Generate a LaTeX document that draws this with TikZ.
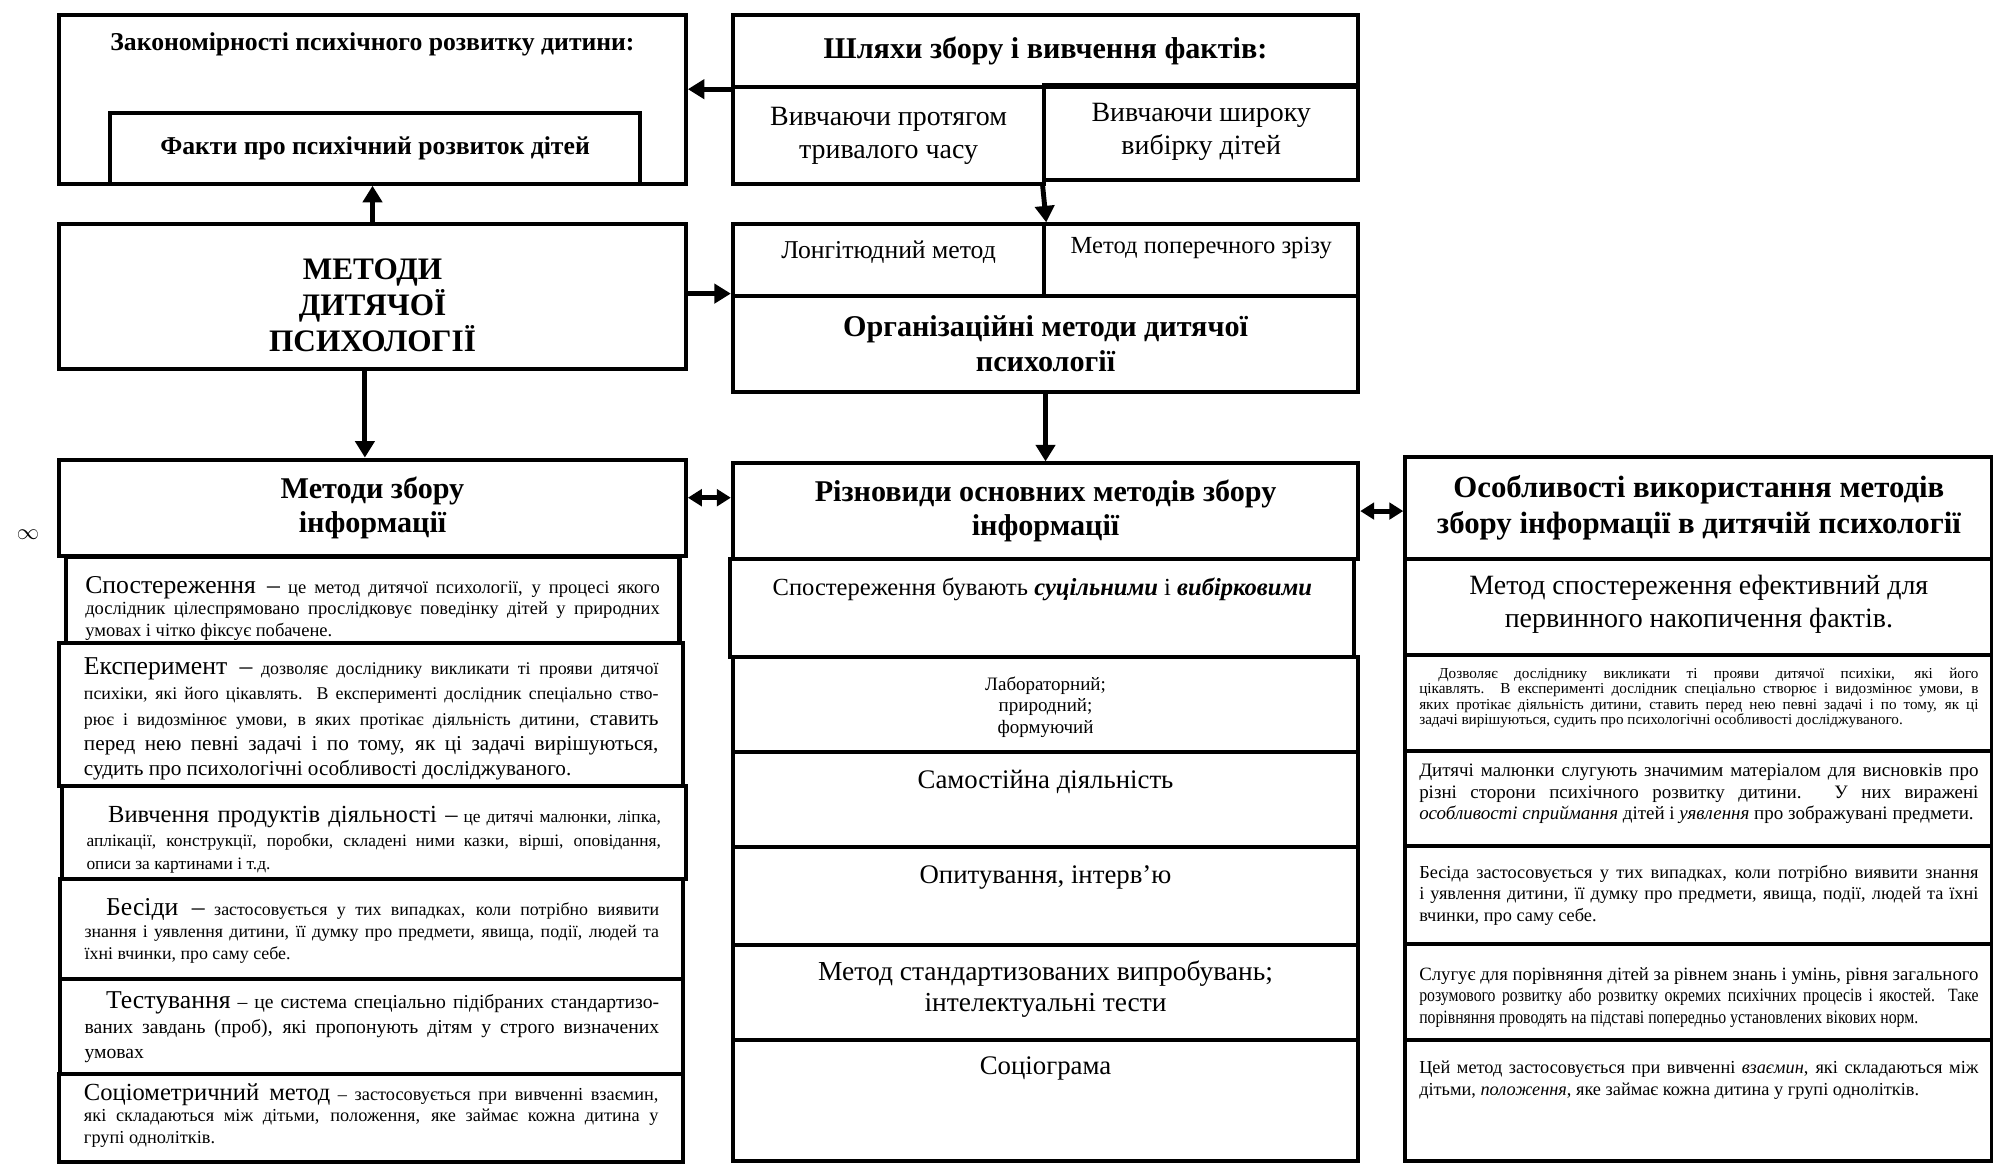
\documentclass[tikz,border=0pt]{standalone}
\usepackage{fontspec}
\setmainfont{Liberation Serif}
\newfontfamily\condensed{Liberation Serif}[FakeStretch=0.84]
\usepackage{tikz}
\usetikzlibrary{arrows.meta}
\tikzstyle{box}=[draw, line width=1.8pt, anchor=north west, align=center, inner sep=0pt]
\tikzstyle{cell}=[draw, line width=1.8pt, anchor=north west, inner sep=0pt]
\tikzstyle{head}=[font=\bfseries\fontsize{13.5}{15.5}\selectfont]
\tikzstyle{arrow}=[->, >={Triangle[length=0.26cm, width=0.30cm]}, line width=2.2pt]
\tikzstyle{twoway}=[<->, >={Triangle[length=0.22cm, width=0.26cm]}, line width=2.2pt]
\newcommand{\fs}[2]{\fontsize{#1}{#2}\selectfont}
\newcommand{\lw}[2]{{\fontsize{#1}{#1}\selectfont #2}}
\newcommand{\cellbox}[4]{\parbox[c][#2cm][t]{#1cm}{\vspace*{#3cm}#4}}

\begin{document}
\begin{tikzpicture}
        \path[use as bounding box, fill=white] (0,0) rectangle (31.36,18.32);
        % left column
        \node(zak) [cell, minimum width=9.86cm] at (0.90,18.12){\cellbox{9.4}{2.66}{0.28}{\centering\bfseries\fs{11.5}{13}Закономірності психічного розвитку дитини:}};
        \node(fakty) [box, minimum width=8.34cm, minimum height=1.12cm, font=\bfseries\fs{11.5}{13}] at (1.70,16.58){Факти про психічний розвиток дітей};
        \node(metody) [cell, minimum width=9.86cm] at (0.90,14.82){\cellbox{9.4}{2.28}{0.54}{\centering\bfseries\fs{14}{16.2}МЕТОДИ\\ДИТЯЧОЇ\\ПСИХОЛОГІЇ}};
        \node(zbir) [box, head, minimum width=9.86cm, minimum height=1.52cm] at (0.90,11.12){Методи збору\\інформації};
        \node(sposter) [cell, minimum width=9.66cm] at (1.00,9.58){\cellbox{9.04}{1.34}{0.30}{\fs{8.3}{9.6}\lw{11.5}{Спостереження –} це метод дитячої психології, у процесі якого\linebreak дослідник цілеспрямовано прослідковує поведінку дітей у природних\linebreak умовах і чітко фіксує побачене.}};
        \node(eksper) [cell, minimum width=9.82cm] at (0.90,8.24){\cellbox{9.04}{2.26}{0.24}{\fs{8}{11.3}\lw{11.5}{Експеримент –} дозволяє досліднику викликати ті прояви дитячої\linebreak психіки, які його цікавлять. В експерименті дослідник спеціально ство-\linebreak рює і видозмінює умови, в яких протікає діяльність дитини, \lw{9.5}{ставить}\linebreak \fs{9.5}{11.3}перед нею певні задачі і по тому, як ці задачі вирішуються,\linebreak судить про психологічні особливості досліджуваного.}};
        \node(produkty) [cell, minimum width=9.82cm] at (0.94,5.98){\cellbox{9.04}{1.46}{0.32}{\fs{7.8}{10.5}\hspace*{0.34cm}\lw{11}{Вивчення продуктів діяльності –} це дитячі малюнки, ліпка,\linebreak аплікації, конструкції, поробки, складені ними казки, вірші, оповідання,\linebreak описи за картинами і т.д.}};
        \node(besidy) [cell, minimum width=9.80cm] at (0.92,4.52){\cellbox{9.04}{1.58}{0.30}{\fs{8}{9.9}\hspace*{0.34cm}\lw{11.5}{Бесіди –} застосовується у тих випадках, коли потрібно виявити\linebreak знання і уявлення дитини, її думку про предмети, явища, події, людей та\linebreak їхні вчинки, про саму себе.}};
        \node(test) [cell, minimum width=9.80cm] at (0.92,2.94){\cellbox{9.04}{1.48}{0.20}{\fs{8.8}{11}\hspace*{0.34cm}\lw{11.5}{Тестування} – це система спеціально підібраних стандартизо-\linebreak ваних завдань (проб), які пропонують дітям у строго визначених\linebreak умовах}};
        \node(sotsio) [cell, minimum width=9.82cm] at (0.90,1.46){\cellbox{9.04}{1.40}{0.16}{\fs{8.2}{9.6}\lw{11}{Соціометричний метод} – застосовується при вивченні взаємин,\linebreak які складаються між дітьми, положення, яке займає кожна дитина у\linebreak групі однолітків.}};
        \node(inf) at (0.44,9.90){$\infty$};
        % middle column
        \node(shl) [box, head, minimum width=9.84cm, minimum height=1.14cm] at (11.50,18.12){Шляхи збору і вивчення фактів:};
        \node(shl1) [box, font=\fs{12.5}{14.7}, minimum width=4.90cm, minimum height=1.52cm] at (11.50,16.98){Вивчаючи протягом\\тривалого часу};
        \node(shl2) [box, font=\fs{12.5}{14.7}, minimum width=4.94cm, minimum height=1.50cm] at (16.40,17.02){Вивчаючи широку\\вибірку дітей};
        \node(long) [cell, minimum width=4.90cm] at (11.50,14.82){\cellbox{4.6}{1.12}{0.26}{\centering\fs{11.5}{13}Лонгітюдний метод}};
        \node(zriz) [cell, minimum width=4.94cm] at (16.40,14.82){\cellbox{4.6}{1.12}{0.20}{\centering\fs{11}{13}Метод поперечного зрізу}};
        \node(org) [box, head, minimum width=9.84cm, minimum height=1.52cm] at (11.50,13.70){Організаційні методи дитячої\\психології};
        \node(rizn) [box, head, minimum width=9.84cm, minimum height=1.50cm] at (11.50,11.06){Різновиди основних методів збору\\інформації};
        \node(rizn1) [cell, minimum width=9.82cm] at (11.46,9.56){\cellbox{9.0}{1.54}{0.30}{\centering\fs{11}{13}Спостереження бувають \textbf{\textit{суцільними}} і \textbf{\textit{вибірковими}}}};
        \node(rizn2) [cell, minimum width=9.84cm] at (11.50,8.02){\cellbox{9.0}{1.50}{0.32}{\centering\fs{8.5}{9.6}Лабораторний;\\природний;\\формуючий}};
        \node(rizn3) [cell, minimum width=9.84cm] at (11.50,6.52){\cellbox{9.0}{1.50}{0.29}{\centering\fs{12}{14}Самостійна діяльність}};
        \node(rizn4) [cell, minimum width=9.84cm] at (11.50,5.02){\cellbox{9.0}{1.54}{0.29}{\centering\fs{12}{14}Опитування, інтерв’ю}};
        \node(rizn5) [cell, minimum width=9.84cm] at (11.50,3.48){\cellbox{9.0}{1.50}{0.24}{\centering\fs{12.3}{14.2}Метод стандартизованих випробувань;\\інтелектуальні тести}};
        \node(rizn6) [cell, minimum width=9.84cm] at (11.50,1.98){\cellbox{9.0}{1.90}{0.25}{\centering\fs{12}{14}Соціограма}};
        % right column
        \node(osob) [box, minimum width=9.24cm, minimum height=1.60cm, font=\bfseries\fs{13.8}{16.4}] at (22.08,11.16){Особливості використання методів\\збору інформації в дитячій психології};
        \node(osob1) [cell, minimum width=9.24cm] at (22.08,9.56){\cellbox{8.8}{1.52}{0.26}{\centering\fs{12.5}{14.7}Метод спостереження ефективний для\\первинного накопичення фактів.}};
        \node(osob2) [cell, minimum width=9.24cm] at (22.08,8.04){\cellbox{8.8}{1.50}{0.20}{\fs{6.8}{6.9}\hspace*{0.3cm}Дозволяє досліднику викликати ті прояви дитячої психіки, які його\linebreak цікавлять. В експерименті дослідник спеціально створює і видозмінює умови, в\linebreak яких протікає діяльність дитини, ставить перед нею певні задачі і по тому, як ці\linebreak задачі вирішуються, судить про психологічні особливості досліджуваного.}};
        \node(osob3) [cell, minimum width=9.24cm] at (22.08,6.54){\cellbox{8.8}{1.50}{0.21}{\fs{8.5}{9.6}Дитячі малюнки слугують значимим матеріалом для висновків про\linebreak різні сторони психічного розвитку дитини. У них виражені\linebreak \textit{особливості сприймання} дітей і \textit{уявлення} про зображувані предмети.}};
        \node(osob4) [cell, minimum width=9.24cm] at (22.08,5.04){\cellbox{8.8}{1.54}{0.30}{\fs{8.2}{9.6}Бесіда застосовується у тих випадках, коли потрібно виявити знання\linebreak і уявлення дитини, її думку про предмети, явища, події, людей та їхні\linebreak вчинки, про саму себе.}};
        \node(osob5) [cell, minimum width=9.24cm] at (22.08,3.50){\cellbox{8.8}{1.52}{0.37}{\fs{8.4}{9.6}Слугує для порівняння дітей за рівнем знань і умінь, рівня загального\linebreak {\condensed розумового розвитку або розвитку окремих психічних процесів і якостей. Таке\linebreak порівняння проводять на підставі попередньо установлених вікових норм.}}};
        \node(osob6) [cell, minimum width=9.24cm] at (22.08,1.98){\cellbox{8.8}{1.90}{0.33}{\fs{8.2}{9.6}Цей метод застосовується при вивченні \textit{взаємин}, які складаються між\linebreak дітьми, \textit{положення}, яке займає кожна дитина у групі однолітків.}};
        % arrows
        \draw[arrow] (metody.north) -- (metody.north |- fakty.south);
        \draw[arrow] (shl.south west) -- (shl.south west -| zak.east);
        \draw[arrow] (metody.east |- org.north west) -- (org.north west);
        \draw[arrow] (shl2.south west) -- (long.north east);
        \draw[arrow] ([xshift=-0.12cm]metody.south) -- ([xshift=-0.12cm]metody.south |- zbir.north);
        \draw[arrow] (org.south) -- (rizn.north);
        \draw[twoway] ([yshift=0.16cm]zbir.east) -- ([yshift=0.16cm]zbir.east -| rizn.west);
        \draw[twoway] (rizn.east) -- (rizn.east -| osob.west);
\end{tikzpicture}
\end{document}
